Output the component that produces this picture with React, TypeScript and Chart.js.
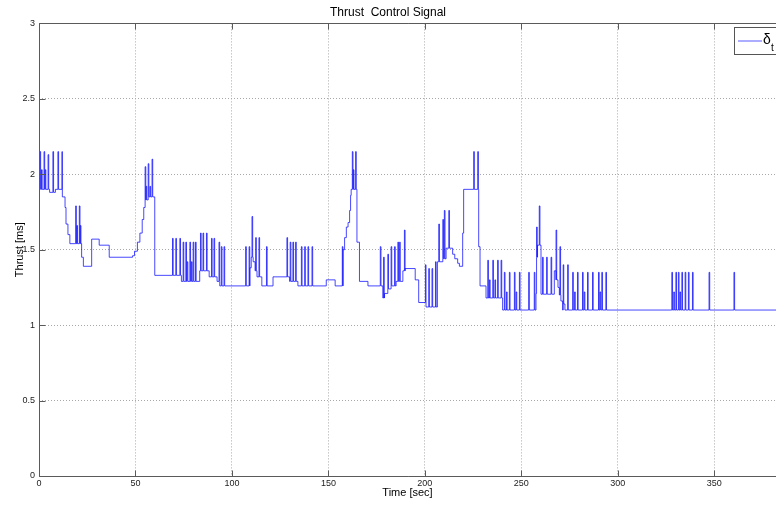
import React, { useEffect, useRef } from 'react';
import { Chart, registerables } from 'chart.js';

Chart.register(...registerables);

const chartTitle = 'Thrust  Control Signal';
const xAxisTitle = 'Time [sec]';
const yAxisTitle = 'Thrust [ms]';
const legendSymbol = 'δ';
const legendSubscript = 't';

const xTickValues = [0, 50, 100, 150, 200, 250, 300, 350];
const yTickValues = [0, 0.5, 1, 1.5, 2, 2.5, 3];
const xMin = 0;
const xMax = 382;
const yMin = 0;
const yMax = 3;

// [time (s), thrust (ms)] — held value from this time onward
const baselineSteps: [number, number][] = [
  [0, 1.9], [5.5, 1.88], [8.5, 1.9], [12.1, 1.85], [13.5, 1.78], [14.0, 1.67],
  [15.0, 1.6], [16.0, 1.54], [22.1, 1.45], [23.0, 1.39], [27.3, 1.57], [31.2, 1.53],
  [36.4, 1.45], [48.5, 1.46], [49.5, 1.49], [51.0, 1.55], [52.3, 1.61], [53.5, 1.7],
  [54.3, 1.78], [55.0, 1.83], [56.6, 1.85], [60.0, 1.33], [73.8, 1.29], [83.3, 1.36],
  [88.2, 1.32], [92.3, 1.29], [93.7, 1.26], [109.3, 1.38], [110.0, 1.45], [111.0, 1.42],
  [112.0, 1.36], [113.0, 1.32], [115.5, 1.26], [121.3, 1.32], [129.9, 1.29], [134.2, 1.26],
  [148.9, 1.3], [153.5, 1.26], [157.6, 1.5], [158.4, 1.58], [159.3, 1.65], [160.2, 1.68],
  [161.0, 1.76], [161.5, 1.86], [161.8, 1.9], [164.8, 1.55], [166.1, 1.29], [170.5, 1.26],
  [178.2, 1.18], [179.1, 1.21], [180.8, 1.24], [182.5, 1.26], [185.1, 1.29], [188.6, 1.36],
  [189.8, 1.375], [195.0, 1.3], [196.8, 1.15], [200.6, 1.12], [206.5, 1.42], [209.3, 1.44],
  [211.0, 1.51], [214.4, 1.47], [215.5, 1.44], [217.0, 1.41], [217.9, 1.39], [219.6, 1.61],
  [220.1, 1.9], [227.9, 1.52], [228.6, 1.26], [231.7, 1.18], [240.3, 1.1], [257.6, 1.21],
  [257.9, 1.45], [258.4, 1.53], [260.2, 1.205], [267.1, 1.36], [268.0, 1.3], [269.0, 1.25],
  [269.7, 1.2], [270.5, 1.16], [271.4, 1.1], [272.0, 1.14], [272.6, 1.1],
];

// [time (s), peak thrust (ms)] — short pulses on top of the held value
const pulses: [number, number][] = [
  [0.5, 2.15], [1.3, 2.03], [2.6, 2.15], [3.2, 2.03], [4.7, 2.13], [7.2, 2.15], [9.8, 2.15], [11.9, 2.15],
  [19.0, 1.79], [19.6, 1.66], [20.9, 1.79], [21.4, 1.66],
  [55.0, 2.05], [55.5, 1.92], [56.6, 2.07], [57.5, 1.92], [58.6, 2.1],
  [69.2, 1.575], [70.9, 1.575], [73.0, 1.575],
  [74.7, 1.55], [76.1, 1.55], [76.8, 1.42], [78.2, 1.55], [79.0, 1.42], [79.9, 1.55], [81.1, 1.55],
  [83.7, 1.61], [85.0, 1.61], [86.8, 1.61],
  [89.4, 1.575], [90.7, 1.575], [93.3, 1.55], [94.5, 1.52], [95.9, 1.52],
  [107.1, 1.52], [108.9, 1.52], [110.4, 1.72], [112.3, 1.58], [114.0, 1.58], [117.9, 1.52],
  [128.5, 1.58], [130.2, 1.55], [131.6, 1.55], [133.0, 1.55],
  [136.0, 1.52], [137.7, 1.52], [139.4, 1.52], [141.5, 1.52], [157.2, 1.52],
  [162.4, 2.15], [162.9, 2.03], [164.1, 2.15],
  [176.9, 1.52], [178.6, 1.45], [180.8, 1.47], [182.5, 1.52], [184.3, 1.52], [186.0, 1.55], [186.9, 1.55], [189.4, 1.63],
  [200.3, 1.4], [202.0, 1.375], [203.7, 1.375], [205.5, 1.42],
  [207.2, 1.67], [209.3, 1.7], [210.1, 1.76], [212.4, 1.76],
  [225.3, 2.15], [227.4, 2.15],
  [232.6, 1.43], [233.5, 1.3], [235.2, 1.43], [236.3, 1.3], [237.7, 1.43], [239.5, 1.43],
  [241.2, 1.35], [242.3, 1.22], [243.8, 1.35], [246.4, 1.35], [247.3, 1.22], [249.0, 1.35],
  [253.8, 1.35], [256.7, 1.35], [257.9, 1.65], [259.3, 1.79],
  [261.0, 1.45], [263.1, 1.45], [265.4, 1.45], [268.0, 1.63], [270.0, 1.52], [271.7, 1.4], [274.0, 1.4],
  [276.6, 1.35], [277.6, 1.22], [279.1, 1.35], [281.7, 1.35], [282.6, 1.22], [284.3, 1.35], [286.9, 1.35],
  [290.0, 1.35], [290.8, 1.22], [291.7, 1.35], [293.8, 1.35],
  [328.0, 1.35], [329.0, 1.22], [330.1, 1.35], [331.4, 1.35], [332.2, 1.22], [333.2, 1.35],
  [334.9, 1.35], [336.6, 1.35], [338.7, 1.35], [347.3, 1.35], [360.2, 1.35],
];

const pulseWidth = 0.35;

function heldValueAt(t: number): number {
  let v = baselineSteps[0][1];
  for (const [bt, bv] of baselineSteps) {
    if (bt <= t) v = bv;
    else break;
  }
  return v;
}

function buildPoints() {
  const pts: { x: number; y: number; o: number }[] = [];
  baselineSteps.forEach(([t, v], i) => pts.push({ x: t, y: v, o: i * 3 }));
  pulses.forEach(([t, p], i) => {
    pts.push({ x: t, y: p, o: 100000 + i * 3 });
    pts.push({ x: t + pulseWidth, y: heldValueAt(t + pulseWidth), o: 100000 + i * 3 + 1 });
  });
  pts.sort((a, b) => (a.x - b.x) || (a.o - b.o));
  pts.push({ x: xMax, y: heldValueAt(xMax), o: 0 });
  return pts.map((p) => ({ x: p.x, y: p.y }));
}

const FONT = "'Liberation Sans', Arial, Helvetica, sans-serif";
const LINE_COLOR = 'rgba(0,0,255,0.72)';

const framePlugin = {
  id: 'matlabFrame',
  afterDraw(chart: any) {
    const { ctx, chartArea, scales } = chart;
    const { left, right, top, bottom } = chartArea;
    const x = scales.x;
    const y = scales.y;
    ctx.save();
    ctx.strokeStyle = '#5a5a5a';
    ctx.lineWidth = 1;
    ctx.beginPath();
    const L = Math.round(left) + 0.5;
    const T = Math.round(top) + 0.5;
    const B = Math.round(bottom) + 0.5;
    ctx.moveTo(L, T);
    ctx.lineTo(right + 2, T);
    ctx.moveTo(L, T);
    ctx.lineTo(L, B);
    ctx.moveTo(L, B);
    ctx.lineTo(right + 2, B);
    xTickValues.forEach((v) => {
      const px = Math.round(x.getPixelForValue(v)) + 0.5;
      ctx.moveTo(px, B);
      ctx.lineTo(px, B - 6);
      ctx.moveTo(px, T);
      ctx.lineTo(px, T + 6);
    });
    yTickValues.forEach((v) => {
      const py = Math.round(y.getPixelForValue(v)) + 0.5;
      ctx.moveTo(L, py);
      ctx.lineTo(L + 6, py);
    });
    ctx.stroke();

    // legend box (inside the axes, top-right)
    const bx = 734.5;
    const by = 27.5;
    ctx.fillStyle = '#ffffff';
    ctx.fillRect(bx, by, 60, 27);
    ctx.strokeStyle = '#555555';
    ctx.strokeRect(bx, by, 60, 27);
    ctx.strokeStyle = 'rgba(40,40,255,0.55)';
    ctx.lineWidth = 1.4;
    ctx.beginPath();
    ctx.moveTo(738, 41);
    ctx.lineTo(762, 41);
    ctx.stroke();
    ctx.fillStyle = '#000000';
    ctx.textAlign = 'left';
    ctx.textBaseline = 'alphabetic';
    ctx.font = `14px ${FONT}`;
    ctx.fillText(legendSymbol, 763, 44);
    ctx.font = `10px ${FONT}`;
    ctx.fillText(legendSubscript, 771, 51);
    ctx.restore();
  },
};

export default function App() {
  const canvasRef = useRef<HTMLCanvasElement | null>(null);

  useEffect(() => {
    const canvas = canvasRef.current;
    if (!canvas) return;
    const chart = new Chart(canvas, {
      type: 'line',
      data: {
        datasets: [
          {
            label: legendSymbol + legendSubscript,
            data: buildPoints(),
            borderColor: LINE_COLOR,
            borderWidth: 1,
            pointRadius: 0,
            stepped: true,
            fill: false,
          },
        ],
      },
      options: {
        responsive: false,
        animation: false,
        events: [],
        layout: { padding: 0 },
        plugins: {
          legend: { display: false },
          tooltip: { enabled: false },
          title: {
            display: true,
            text: chartTitle,
            color: '#000000',
            font: { family: FONT, size: 12, weight: 'normal' },
            padding: { top: 5, bottom: 4 },
          },
        },
        scales: {
          x: {
            type: 'linear',
            min: xMin,
            max: xMax,
            afterBuildTicks: (scale: any) => {
              scale.ticks = xTickValues.map((v) => ({ value: v }));
            },
            afterFit: (scale: any) => {
              scale.height = 30;
            },
            grid: { color: '#a8a8a8', lineWidth: 1, drawTicks: false },
            border: { display: false, dash: [1, 2] },
            ticks: {
              color: '#222222',
              font: { family: FONT, size: 9 },
              padding: 2,
              maxRotation: 0,
              autoSkip: false,
              callback: (v: any) => String(v),
            },
            title: {
              display: true,
              text: xAxisTitle,
              color: '#000000',
              font: { family: FONT, size: 11 },
              padding: { top: 0, bottom: 6 },
            },
          },
          y: {
            type: 'linear',
            min: yMin,
            max: yMax,
            afterBuildTicks: (scale: any) => {
              scale.ticks = yTickValues.map((v) => ({ value: v }));
            },
            afterFit: (scale: any) => {
              scale.width = 39;
            },
            grid: { color: '#a8a8a8', lineWidth: 1, drawTicks: false },
            border: { display: false, dash: [1, 2] },
            ticks: {
              color: '#222222',
              font: { family: FONT, size: 9 },
              padding: 4,
              autoSkip: false,
              callback: (v: any) => String(v),
            },
            title: {
              display: true,
              text: yAxisTitle,
              color: '#000000',
              font: { family: FONT, size: 11 },
              padding: { top: 13, bottom: 0 },
            },
          },
        },
      },
      plugins: [framePlugin],
    } as any);
    return () => chart.destroy();
  }, []);

  return (
    <div style={{ position: 'absolute', left: 0, top: 0, width: 776, height: 506, background: '#ffffff' }}>
      <canvas ref={canvasRef} width={776} height={506} style={{ display: 'block' }} />
    </div>
  );
}
